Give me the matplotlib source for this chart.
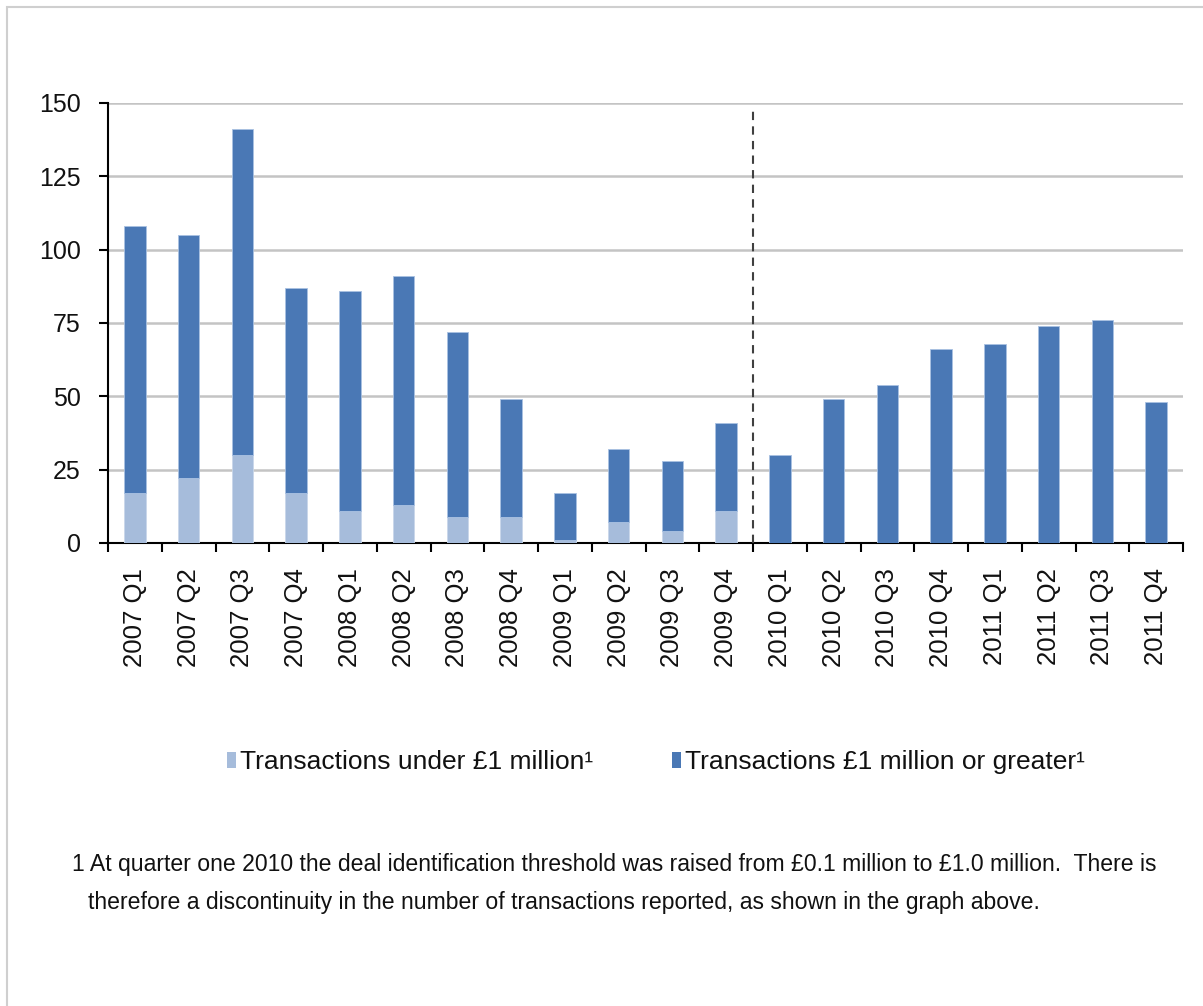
import matplotlib
matplotlib.use("Agg")
import matplotlib.pyplot as plt
from matplotlib.patches import Patch, Rectangle

plt.rcParams["font.family"] = ["Liberation Sans", "DejaVu Sans"]

quarters = [
    "2007 Q1", "2007 Q2", "2007 Q3", "2007 Q4",
    "2008 Q1", "2008 Q2", "2008 Q3", "2008 Q4",
    "2009 Q1", "2009 Q2", "2009 Q3", "2009 Q4",
    "2010 Q1", "2010 Q2", "2010 Q3", "2010 Q4",
    "2011 Q1", "2011 Q2", "2011 Q3", "2011 Q4",
]
# transactions under £1 million (only reported up to 2009 Q4)
under_1m = [17, 22, 30, 17, 11, 13, 9, 9, 1, 7, 4, 11,
            0, 0, 0, 0, 0, 0, 0, 0]
# transactions £1 million or greater
over_1m = [91, 83, 111, 70, 75, 78, 63, 40, 16, 25, 24, 30,
           30, 49, 54, 66, 68, 74, 76, 48]
y_ticks = [0, 25, 50, 75, 100, 125, 150]
break_after = "2009 Q4"

light_blue = "#a6bcdb"
dark_blue = "#4a78b5"

fig = plt.figure(figsize=(12.03, 10.06), dpi=100)
# thin grey frame round the chart area
fig.patches.append(Rectangle((7 / 1203, -0.01), 1.1, 1 - 7 / 1006 + 0.01,
                             transform=fig.transFigure, fill=False,
                             edgecolor="#cfcfcf", linewidth=1.5))

ax = fig.add_axes([108 / 1203, 1 - 543 / 1006, 1075 / 1203, 440 / 1006])

xs = list(range(len(quarters)))
ax.bar(xs, under_1m, width=0.4, color=light_blue, edgecolor="#c9d7ea",
       linewidth=0.6, zorder=3)
ax.bar(xs, over_1m, width=0.4, bottom=under_1m, color=dark_blue,
       edgecolor="#a9c1e2", linewidth=0.6, zorder=3)

# discontinuity marker between 2009 Q4 and 2010 Q1
brk = quarters.index(break_after) + 0.5
ax.plot([brk, brk], [0, 148], color="#404040", linestyle=(0, (4, 3)),
        linewidth=1.5, zorder=4)

ax.set_xlim(-0.5, len(quarters) - 0.5)
ax.set_ylim(0, 150)
ax.set_yticks(y_ticks)
ax.yaxis.grid(True, color="#c4c4c4", linewidth=1.8, zorder=0)
ax.set_axisbelow(True)

ax.set_xticks(xs)
ax.set_xticklabels(quarters, rotation=90, va="top", ha="center")
ax.set_xticks([x - 0.5 for x in xs] + [len(quarters) - 0.5], minor=True)
ax.tick_params(axis="x", which="major", length=0, pad=18, labelsize=18.5,
               labelcolor="#111111")
ax.tick_params(axis="x", which="minor", length=6.5, width=1.5,
               direction="out", color="black")
ax.tick_params(axis="y", length=6.5, width=1.5, pad=13, labelsize=18,
               labelcolor="#111111")

for side in ("top", "right"):
    ax.spines[side].set_visible(False)
for side in ("left", "bottom"):
    ax.spines[side].set_linewidth(1.5)
    ax.spines[side].set_color("black")

handles = [
    Patch(facecolor=light_blue, edgecolor="none",
          label="Transactions under £1 million¹"),
    Patch(facecolor=dark_blue, edgecolor="none",
          label="Transactions £1 million or greater¹"),
]
fig.legend(handles=handles, loc="center", bbox_to_anchor=(0.545, 1 - 762 / 1006),
           ncol=2, frameon=False, fontsize=19, handlelength=0.33,
           handleheight=0.55, handletextpad=0.15, columnspacing=3.0,
           labelcolor="#111111")

fig.text(72 / 1203, 1 - 864 / 1006,
         "1 At quarter one 2010 the deal identification threshold was raised "
         "from £0.1 million to £1.0 million.  There is",
         ha="left", va="center", fontsize=16.6, color="#111111")
fig.text(88 / 1203, 1 - 903 / 1006,
         "therefore a discontinuity in the number of transactions reported, "
         "as shown in the graph above.",
         ha="left", va="center", fontsize=16.6, color="#111111")

fig.savefig("out.png", dpi=100, facecolor="white")
